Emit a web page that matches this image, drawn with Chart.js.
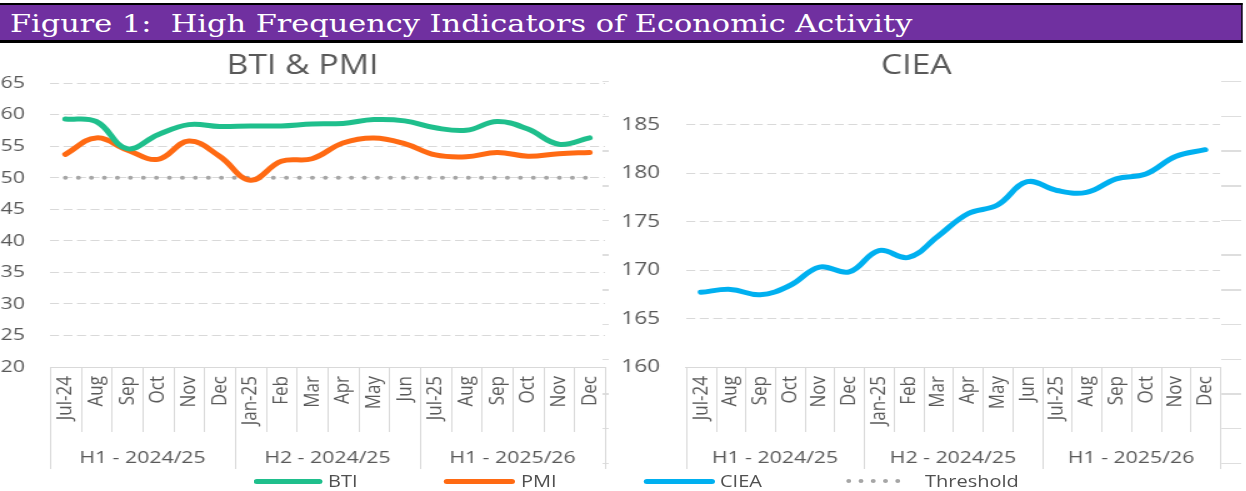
<!DOCTYPE html>
<html><head><meta charset="utf-8">
<script src="https://cdn.jsdelivr.net/npm/chart.js@4.4.1/dist/chart.umd.min.js"></script>
<style>
html,body{margin:0;padding:0;background:#fff;overflow:hidden;width:1246px;height:491px;}
#stage{position:absolute;left:0;top:0;width:997px;height:491px;transform:scaleX(1.25);transform-origin:0 0;}
#titlebar{position:absolute;left:0;top:3px;width:992.8px;height:35px;background:#7030A0;border-top:2px solid #000;border-bottom:3px solid #000;border-right:1.6px solid #000;}
#titletext{position:absolute;left:8px;top:7.1px;font-family:"DejaVu Serif";font-size:24.3px;line-height:24.3px;color:#fff;white-space:nowrap;}
.cw{position:absolute;top:44px;height:447px;}
#leftWrap{left:0;width:490px;}
#rightWrap{left:490px;width:507px;}
.ll{position:absolute;height:5px;border-radius:2.5px;top:478.5px;}
.lt{position:absolute;top:470px;font-family:"Open Sans";font-size:16px;line-height:22px;color:#505050;white-space:nowrap;}
.ghost{position:absolute;top:80.5px;height:392px;background:repeating-linear-gradient(to bottom,#DEDEDE 0,#DEDEDE 1.5px,transparent 1.5px,transparent 34.7px);}
</style></head>
<body>
<div id="stage">
  <div id="titlebar"><div id="titletext">Figure 1:&nbsp; High Frequency Indicators of Economic Activity</div></div>
  <div class="ghost" style="left:482.4px;width:4.8px"></div>
  <div class="ghost" style="left:976.5px;width:16.5px"></div>
  <div class="cw" id="leftWrap"><canvas id="cL" width="490" height="447"></canvas></div>
  <div class="cw" id="rightWrap"><canvas id="cR" width="507" height="447"></canvas></div>
  <div class="ll" style="left:203.2px;width:54.4px;background:#1FBF8C"></div>
  <div class="lt" style="left:262.4px">BTI</div>
  <div class="ll" style="left:355.2px;width:56.8px;background:#FF6A13"></div>
  <div class="lt" style="left:416.8px">PMI</div>
  <div class="ll" style="left:515.2px;width:56.8px;background:#00B0F0"></div>
  <div class="lt" style="left:576px">CIEA</div>
  <svg style="position:absolute;left:676px;top:476px" width="56" height="10"><line x1="3" y1="5" x2="52" y2="5" stroke="#A6A6A6" stroke-width="4" stroke-linecap="round" stroke-dasharray="0 9.8"/></svg>
  <div class="lt" style="left:740px">Threshold</div>
</div>
<script>
// ---- data ----
const categories = ['Jul-24','Aug','Sep','Oct','Nov','Dec','Jan-25','Feb','Mar','Apr','May','Jun','Jul-25','Aug','Sep','Oct','Nov','Dec'];
const groupLabels = ['H1 - 2024/25','H2 - 2024/25','H1 - 2025/26'];
const groupSizes = [6, 6, 6];
const btiValues = [59.3, 58.9, 54.6, 56.8, 58.4, 58.1, 58.2, 58.2, 58.5, 58.6, 59.2, 59.0, 57.9, 57.5, 58.9, 57.7, 55.3, 56.3];
const pmiValues = [53.7, 56.3, 54.4, 52.9, 55.8, 53.4, 49.6, 52.6, 53.0, 55.5, 56.3, 55.4, 53.6, 53.3, 54.0, 53.4, 53.8, 54.0];
const thresholdValues = [50, 50, 50, 50, 50, 50, 50, 50, 50, 50, 50, 50, 50, 50, 50, 50, 50, 50];
const cieaValues = [167.7, 168.0, 167.45, 168.4, 170.3, 169.8, 172.0, 171.3, 173.5, 175.8, 176.7, 179.1, 178.2, 178.0, 179.4, 179.9, 181.7, 182.4];
const leftTicks = {min: 20, max: 65, step: 5};
const rightTicks = {min: 160, max: 185, step: 5};

const GRID = '#D9D9D9', TXT = '#595959', FONT = 'Open Sans';

const catAxisPlugin = {
  id: 'catAxis',
  afterDraw(chart) {
    const x = chart.scales.x, ctx = chart.ctx;
    const bottom = chart.chartArea.bottom;
    const n = categories.length;
    const step = x.getPixelForValue(1) - x.getPixelForValue(0);
    const edge = i => x.getPixelForValue(i) - step / 2;
    const gEdges = [0];
    groupSizes.forEach(s => gEdges.push(gEdges[gEdges.length - 1] + s));
    ctx.save();
    ctx.strokeStyle = GRID; ctx.lineWidth = 1;
    for (let i = 0; i <= n; i++) {
      const px = Math.round(edge(i)) + 0.5;
      const len = gEdges.includes(i) ? 102 : 65;
      ctx.beginPath(); ctx.moveTo(px, bottom); ctx.lineTo(px, bottom + len); ctx.stroke();
    }
    ctx.fillStyle = TXT; ctx.font = '17px "' + FONT + '"';
    ctx.textAlign = 'center'; ctx.textBaseline = 'middle';
    for (let g = 0; g < groupLabels.length; g++) {
      const cx = (edge(gEdges[g]) + edge(gEdges[g + 1])) / 2;
      ctx.fillText(groupLabels[g], cx, bottom + 91);
    }
    ctx.restore();
  }
};

function xScale() {
  return {
    type: 'category', offset: true,
    grid: {display: false, drawTicks: false},
    border: {display: true, color: GRID, width: 1},
    ticks: {autoSkip: false, maxRotation: 90, minRotation: 90, padding: 9, color: TXT, font: {family: FONT, size: 17}},
    afterFit(s) { s.height = 124; s.paddingLeft = 0; s.paddingRight = 0; }
  };
}

new Chart(document.getElementById('cL'), {
  type: 'line',
  data: {labels: categories, datasets: [
    {label: 'BTI', data: btiValues, borderColor: '#1FBF8C', borderWidth: 5, tension: 0.4, pointRadius: 0, fill: false, borderCapStyle: 'round'},
    {label: 'PMI', data: pmiValues, borderColor: '#FF6A13', borderWidth: 5, tension: 0.4, pointRadius: 0, fill: false, borderCapStyle: 'round'},
    {label: 'Threshold', data: thresholdValues, borderColor: '#A6A6A6', borderWidth: 4, borderDash: [0, 10.4], borderCapStyle: 'round', tension: 0, pointRadius: 0, fill: false}
  ]},
  options: {
    responsive: false, animation: false, events: [],
    layout: {padding: {left: 0, right: 6, top: 0, bottom: 0}},
    plugins: {
      legend: {display: false}, tooltip: {enabled: false},
      title: {display: true, text: 'BTI & PMI', color: TXT, font: {family: FONT, size: 27, weight: 'normal', lineHeight: 1.2}, padding: {top: 6.6, bottom: 0}}
    },
    scales: {
      x: xScale(),
      y: {min: leftTicks.min, max: leftTicks.max,
          ticks: {stepSize: leftTicks.step, padding: 20, color: TXT, font: {family: FONT, size: 17}},
          grid: {color: GRID, drawTicks: false}, border: {display: false, dash: [7.2, 3.6]},
          afterFit(s) { s.width = 40; }}
    }
  },
  plugins: [catAxisPlugin]
});

new Chart(document.getElementById('cR'), {
  type: 'line',
  data: {labels: categories, datasets: [
    {label: 'CIEA', data: cieaValues, borderColor: '#00B0F0', borderWidth: 5, tension: 0.4, pointRadius: 0, fill: false, borderCapStyle: 'round'}
  ]},
  options: {
    responsive: false, animation: false, events: [],
    layout: {padding: {left: 0, right: 21, top: 0, bottom: 0}},
    plugins: {
      legend: {display: false}, tooltip: {enabled: false},
      title: {display: true, text: 'CIEA', color: TXT, font: {family: FONT, size: 27, weight: 'normal', lineHeight: 1.2}, padding: {top: 6.6, bottom: 41.5}}
    },
    scales: {
      x: xScale(),
      y: {min: rightTicks.min, max: rightTicks.max,
          ticks: {stepSize: rightTicks.step, padding: 20.8, color: TXT, font: {family: FONT, size: 18}},
          grid: {color: GRID, drawTicks: false}, border: {display: false, dash: [7.2, 3.6]},
          afterFit(s) { s.width = 58.8; }}
    }
  },
  plugins: [catAxisPlugin]
});
</script>
</body></html>
